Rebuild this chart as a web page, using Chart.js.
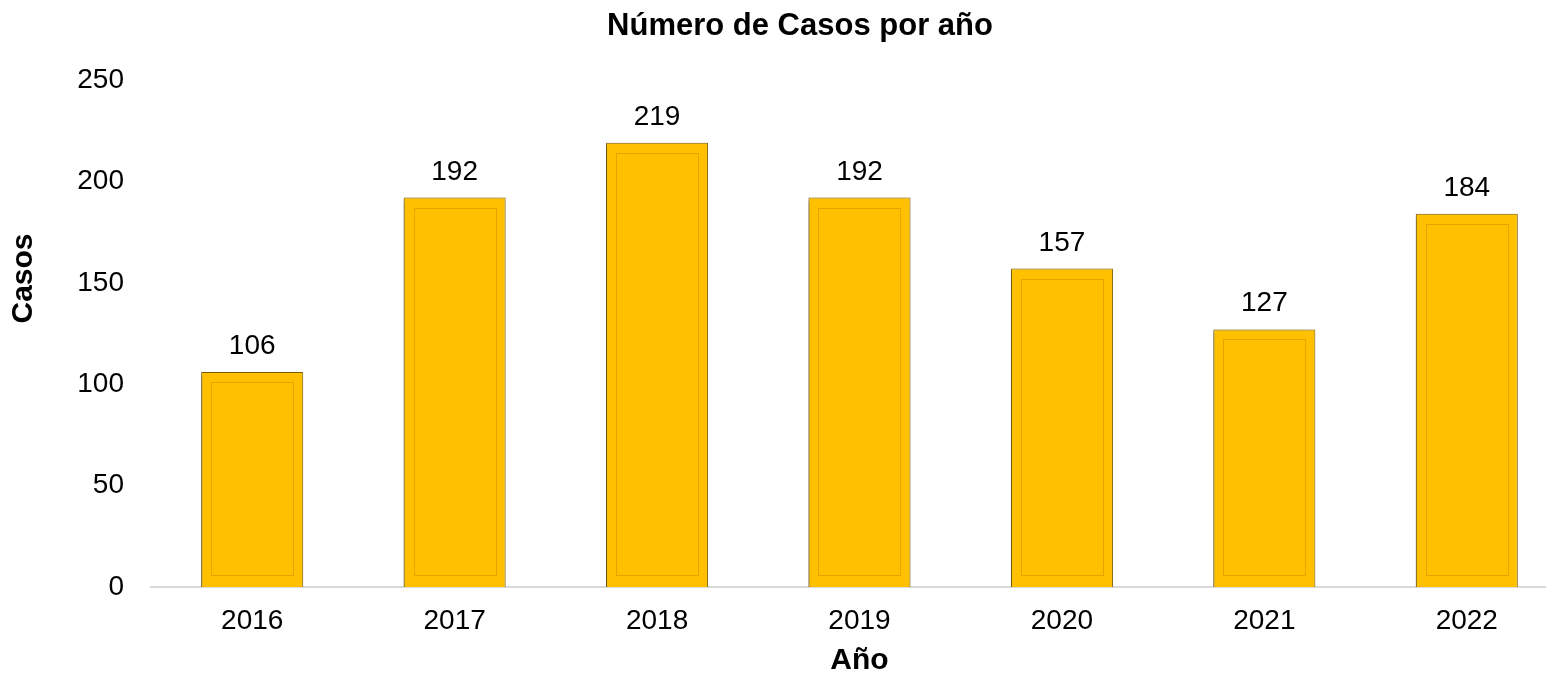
<!DOCTYPE html>
<html><head><meta charset="utf-8">
<style>
html,body{margin:0;padding:0;overflow:hidden;background:#fff;width:1546px;height:675px}
#wrap{width:1546px;height:675px;overflow:hidden;position:relative}
canvas{display:block}
</style>
<script src="https://cdn.jsdelivr.net/npm/chart.js@4"></script>
</head><body><div id="wrap"><canvas id="c" width="1600" height="675"></canvas></div>
<script>
const years = ['2016','2017','2018','2019','2020','2021','2022'];
const casos = [106,192,219,192,157,127,184];
const yMin = 0, yMax = 250, yStep = 50;
const chartTitle = 'Número de Casos por año';
const xTitle = 'Año';
const yTitle = 'Casos';

const FONT = '"Liberation Sans", Arial, sans-serif';

const barDecor = {
  id: 'barDecor',
  beforeDatasetDraw(chart) {
    const ctx = chart.ctx;
    ctx.save();
    ctx.shadowColor = 'rgba(0,0,0,0.35)';
    ctx.shadowBlur = 4;
    ctx.shadowOffsetX = -2;
    ctx.shadowOffsetY = 2;
  },
  afterDatasetDraw(chart) {
    chart.ctx.restore();
  },
  afterDatasetsDraw(chart) {
    const ctx = chart.ctx;
    const meta = chart.getDatasetMeta(0);
    ctx.save();
    meta.data.forEach((bar, i) => {
      const p = bar.getProps(['x','y','base','width'], true);
      const l = p.x - p.width / 2, r = p.x + p.width / 2;
      ctx.strokeStyle = 'rgba(200,145,0,0.55)';
      ctx.lineWidth = 1;
      ctx.strokeRect(Math.round(l + 10) + 0.5, Math.round(p.y + 10) + 0.5,
                     Math.round(r - l - 20), Math.round(p.base - p.y - 22));
      ctx.fillStyle = '#000';
      ctx.font = '28px ' + FONT;
      ctx.textAlign = 'center';
      ctx.textBaseline = 'alphabetic';
      ctx.fillText(String(casos[i]), p.x, p.y - 18);
    });
    ctx.restore();
  }
};

const yTitlePlugin = {
  id: 'yTitlePlugin',
  afterDraw(chart) {
    const ctx = chart.ctx;
    const a = chart.chartArea;
    ctx.save();
    ctx.translate(24, (a.top + a.bottom) / 2 - 55);
    ctx.rotate(-Math.PI / 2);
    ctx.font = 'bold 30px ' + FONT;
    ctx.fillStyle = '#000';
    ctx.textAlign = 'center';
    ctx.textBaseline = 'middle';
    ctx.fillText(yTitle, 0, 0);
    ctx.restore();
  }
};

new Chart(document.getElementById('c'), {
  type: 'bar',
  data: {
    labels: years,
    datasets: [{
      data: casos,
      backgroundColor: '#FFC000',
      borderColor: '#7F6000',
      borderWidth: 1,
      categoryPercentage: 1,
      barPercentage: 0.504
    }]
  },
  options: {
    responsive: false,
    devicePixelRatio: 1,
    animation: false,
    layout: { padding: { left: 32, right: 32, top: 0, bottom: 0 } },
    plugins: {
      legend: { display: false },
      tooltip: { enabled: false },
      title: {
        display: true,
        text: chartTitle,
        color: '#000',
        font: { family: FONT, size: 31, weight: 'bold' },
        padding: { top: 8, bottom: 34.8 }
      }
    },
    scales: {
      x: {
        offset: true,
        grid: { display: false, drawTicks: false },
        border: { display: true, color: '#D9D9D9', width: 2 },
        ticks: { color: '#000', font: { family: FONT, size: 28 }, padding: 17 },
        title: {
          display: true, text: xTitle, color: '#000',
          font: { family: FONT, size: 30, weight: 'bold' },
          padding: { top: 0, bottom: -4 }
        },
        afterFit(scale) { scale.height = 88; }
      },
      y: {
        min: yMin, max: yMax,
        grid: { display: false, drawTicks: false },
        border: { display: false },
        ticks: { stepSize: yStep, color: '#000', font: { family: FONT, size: 28 }, padding: 27 },
        afterFit(scale) { scale.width = 119; }
      }
    }
  },
  plugins: [barDecor, yTitlePlugin]
});
</script>
</body></html>
